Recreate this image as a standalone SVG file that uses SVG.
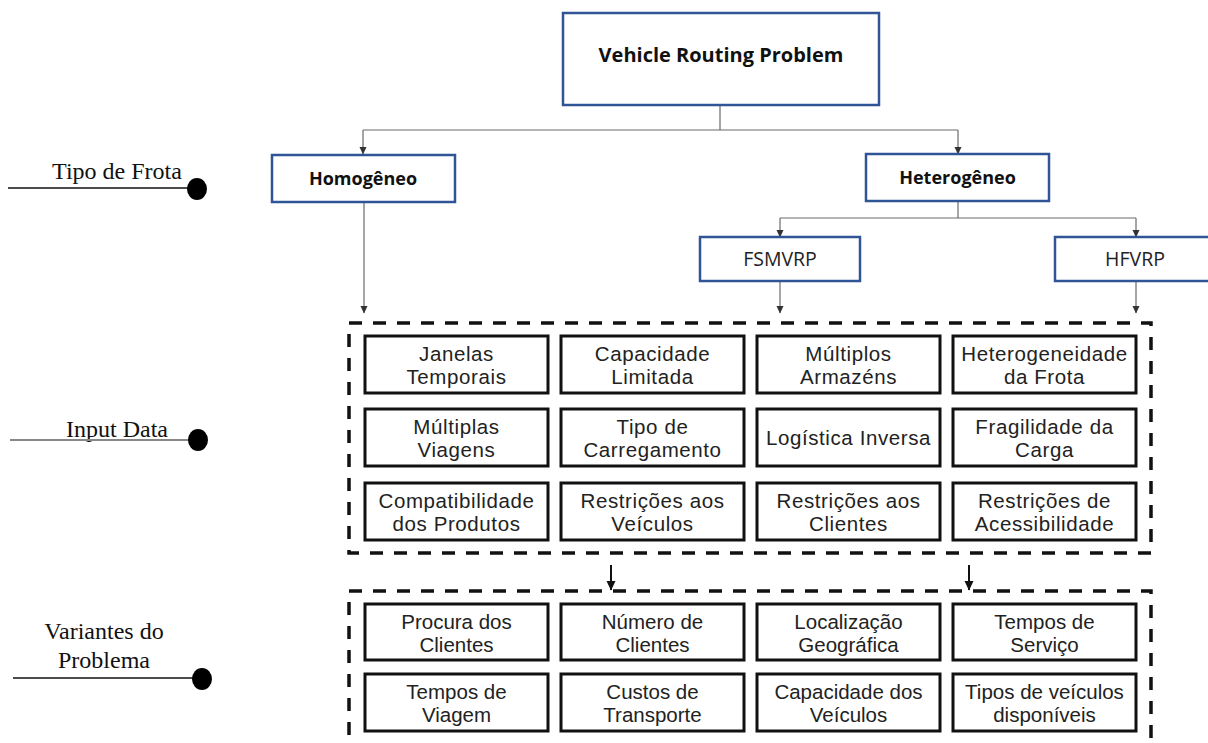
<svg xmlns="http://www.w3.org/2000/svg" width="1208" height="743" viewBox="0 0 1208 743">
<style>
.blue{fill:#fff;stroke:#2f5597;stroke-width:2.5}
.cell{fill:#fff;stroke:#111;stroke-width:3}
.dash{fill:none;stroke:#111;stroke-width:3.5;stroke-dasharray:13 11}
.t{font-family:"Liberation Sans",Arial,sans-serif;font-size:20.5px;letter-spacing:0.6px;fill:#222;text-anchor:middle}
.v{font-family:"Liberation Sans",Arial,sans-serif;font-size:20.5px;fill:#222;text-anchor:middle}
.tb{font-family:"Open Sans","Noto Sans",sans-serif;font-weight:bold;fill:#111;text-anchor:middle}
.tn{font-family:"Open Sans","Noto Sans",sans-serif;font-size:19.5px;fill:#222;text-anchor:middle}
.lab{font-family:"Liberation Serif","DejaVu Serif",serif;font-size:24px;fill:#111;text-anchor:middle}
.con{fill:none;stroke:#6b6b6b;stroke-width:1.2}
.thick{fill:none;stroke:#111;stroke-width:2}
</style>
<defs>
<marker id="ad" markerUnits="userSpaceOnUse" markerWidth="8" markerHeight="8" refX="7" refY="4" orient="auto" viewBox="0 0 8 8">
<path d="M0 0.5 L7.5 4 L0 7.5 Z" fill="#333"/>
</marker>
<marker id="ak" markerUnits="userSpaceOnUse" markerWidth="10" markerHeight="10" refX="9" refY="5" orient="auto" viewBox="0 0 10 10">
<path d="M0 0.5 L9.5 5 L0 9.5 Z" fill="#111"/>
</marker>
</defs>

<g id="connectors">
<path class="con" d="M720 105 V130 M363 130 H958"/>
<path class="con" d="M363 130 V154" marker-end="url(#ad)"/>
<path class="con" d="M958 130 V154" marker-end="url(#ad)"/>
<path class="con" d="M958 201 V218 M780 218 H1136"/>
<path class="con" d="M780 218 V237" marker-end="url(#ad)"/>
<path class="con" d="M1136 218 V237" marker-end="url(#ad)"/>
<path class="con" d="M364 202 V313" marker-end="url(#ad)"/>
<path class="con" d="M780 281 V313" marker-end="url(#ad)"/>
<path class="con" d="M1136 281 V313" marker-end="url(#ad)"/>
<path class="thick" d="M611 565 V590" marker-end="url(#ak)"/>
<path class="thick" d="M969 565 V590" marker-end="url(#ak)"/>
</g>

<g id="side-labels">
<g id="tipo-frota">
<text class="lab" x="117" y="179">Tipo de Frota</text>
<line x1="8" y1="188" x2="192" y2="188" stroke="#111" stroke-width="1.5"/>
<ellipse cx="197" cy="189" rx="10" ry="11" fill="#000"/>
</g>
<g id="input-data">
<text class="lab" x="117" y="437">Input Data</text>
<line x1="10" y1="440" x2="193" y2="440" stroke="#888" stroke-width="2"/>
<ellipse cx="198" cy="440" rx="10" ry="11" fill="#000"/>
</g>
<g id="variantes">
<text class="lab" x="104" y="639">Variantes do<tspan x="104" dy="29">Problema</tspan></text>
<line x1="13" y1="678" x2="197" y2="678" stroke="#111" stroke-width="1.5"/>
<ellipse cx="202" cy="679" rx="10" ry="11" fill="#000"/>
</g>
</g>

<g id="vrp">
<rect class="blue" x="563" y="13" width="316" height="92"/>
<text class="tb" x="721" y="62" font-size="20">Vehicle Routing Problem</text>
</g>
<g id="homogeneo">
<rect class="blue" x="272" y="155" width="183" height="47"/>
<text class="tb" x="363" y="185" font-size="18">Homogêneo</text>
</g>
<g id="heterogeneo">
<rect class="blue" x="866" y="154" width="183" height="47"/>
<text class="tb" x="957.5" y="184" font-size="18">Heterogêneo</text>
</g>
<g id="fsmvrp">
<rect class="blue" x="700" y="237" width="160" height="44"/>
<text class="tn" x="780" y="266">FSMVRP</text>
</g>
<g id="hfvrp">
<rect class="blue" x="1055" y="237" width="160" height="44"/>
<text class="tn" x="1135" y="266">HFVRP</text>
</g>

<g id="input-panel">
<rect class="dash" x="349" y="323" width="802" height="230"/>
</g>
<g id="c11"><rect class="cell" x="365" y="336" width="183" height="57"/><text class="t" x="456.5" y="361">Janelas<tspan x="456.5" dy="23">Temporais</tspan></text></g>
<g id="c12"><rect class="cell" x="561" y="336" width="183" height="57"/><text class="t" x="652.5" y="361">Capacidade<tspan x="652.5" dy="23">Limitada</tspan></text></g>
<g id="c13"><rect class="cell" x="757" y="336" width="183" height="57"/><text class="t" x="848.5" y="361">Múltiplos<tspan x="848.5" dy="23">Armazéns</tspan></text></g>
<g id="c14"><rect class="cell" x="953" y="336" width="183" height="57"/><text class="t" x="1044.5" y="361">Heterogeneidade<tspan x="1044.5" dy="23">da Frota</tspan></text></g>
<g id="c21"><rect class="cell" x="365" y="409" width="183" height="57"/><text class="t" x="456.5" y="434">Múltiplas<tspan x="456.5" dy="23">Viagens</tspan></text></g>
<g id="c22"><rect class="cell" x="561" y="409" width="183" height="57"/><text class="t" x="652.5" y="434">Tipo de<tspan x="652.5" dy="23">Carregamento</tspan></text></g>
<g id="c23"><rect class="cell" x="757" y="409" width="183" height="57"/><text class="t" x="848.5" y="445">Logística Inversa</text></g>
<g id="c24"><rect class="cell" x="953" y="409" width="183" height="57"/><text class="t" x="1044.5" y="434">Fragilidade da<tspan x="1044.5" dy="23">Carga</tspan></text></g>
<g id="c31"><rect class="cell" x="365" y="483" width="183" height="57"/><text class="t" x="456.5" y="508">Compatibilidade<tspan x="456.5" dy="23">dos Produtos</tspan></text></g>
<g id="c32"><rect class="cell" x="561" y="483" width="183" height="57"/><text class="t" x="652.5" y="508">Restrições aos<tspan x="652.5" dy="23">Veículos</tspan></text></g>
<g id="c33"><rect class="cell" x="757" y="483" width="183" height="57"/><text class="t" x="848.5" y="508">Restrições aos<tspan x="848.5" dy="23">Clientes</tspan></text></g>
<g id="c34"><rect class="cell" x="953" y="483" width="183" height="57"/><text class="t" x="1044.5" y="508">Restrições de<tspan x="1044.5" dy="23">Acessibilidade</tspan></text></g>

<g id="variant-panel">
<rect class="dash" x="349" y="591" width="802" height="170"/>
</g>
<g id="v11"><rect class="cell" x="365" y="604" width="183" height="56"/><text class="v" x="456.5" y="629">Procura dos<tspan x="456.5" dy="23">Clientes</tspan></text></g>
<g id="v12"><rect class="cell" x="561" y="604" width="183" height="56"/><text class="v" x="652.5" y="629">Número de<tspan x="652.5" dy="23">Clientes</tspan></text></g>
<g id="v13"><rect class="cell" x="757" y="604" width="183" height="56"/><text class="v" x="848.5" y="629">Localização<tspan x="848.5" dy="23">Geográfica</tspan></text></g>
<g id="v14"><rect class="cell" x="953" y="604" width="183" height="56"/><text class="v" x="1044.5" y="629">Tempos de<tspan x="1044.5" dy="23">Serviço</tspan></text></g>
<g id="v21"><rect class="cell" x="365" y="674" width="183" height="57"/><text class="v" x="456.5" y="699">Tempos de<tspan x="456.5" dy="23">Viagem</tspan></text></g>
<g id="v22"><rect class="cell" x="561" y="674" width="183" height="57"/><text class="v" x="652.5" y="699">Custos de<tspan x="652.5" dy="23">Transporte</tspan></text></g>
<g id="v23"><rect class="cell" x="757" y="674" width="183" height="57"/><text class="v" x="848.5" y="699">Capacidade dos<tspan x="848.5" dy="23">Veículos</tspan></text></g>
<g id="v24"><rect class="cell" x="953" y="674" width="183" height="57"/><text class="v" x="1044.5" y="699">Tipos de veículos<tspan x="1044.5" dy="23">disponíveis</tspan></text></g>
</svg>
